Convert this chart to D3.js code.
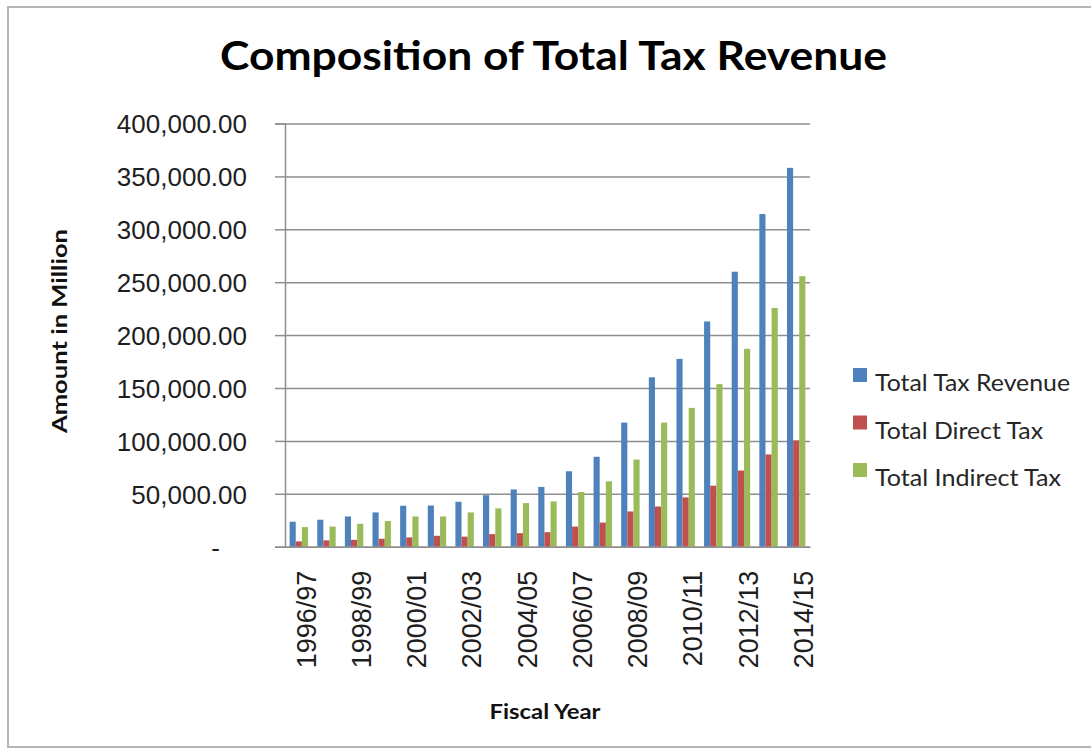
<!DOCTYPE html>
<html>
<head>
<meta charset="utf-8">
<script src="https://cdn.jsdelivr.net/npm/d3@7"></script>
<style>
  html, body { margin: 0; padding: 0; background: #fff; }
  svg { display: block; }
</style>
</head>
<body>
<svg id="chart" width="1091" height="754"></svg>
<script>
// Fiscal years on the category axis
const years = [
  "1996/97", "1997/98", "1998/99", "1999/00", "2000/01", "2001/02", "2002/03",
  "2003/04", "2004/05", "2005/06", "2006/07", "2007/08", "2008/09", "2009/10",
  "2010/11", "2011/12", "2012/13", "2013/14", "2014/15"
];

// Amounts in million
const totalTaxRevenue = [
  23600, 25500, 28600, 32400, 38700, 38900, 42500, 48700, 54100, 56500,
  71300, 85000, 117300, 160100, 177500, 212900, 259900, 314400, 358100
];
const totalDirectTax = [
  5000, 6000, 6500, 7500, 8800, 10300, 9500, 11900, 12800, 13700,
  19000, 22800, 33300, 38000, 46600, 57700, 72000, 87200, 100500
];
const totalIndirectTax = [
  18500, 19000, 21700, 24200, 28600, 28600, 32400, 36200, 41200, 42800,
  51700, 61800, 82400, 117300, 131200, 153700, 187000, 225700, 255700
];

const seriesNames = ["Total Tax Revenue", "Total Direct Tax", "Total Indirect Tax"];
const seriesValues = [totalTaxRevenue, totalDirectTax, totalIndirectTax];
const seriesColors = ["#4f81bd", "#c0504d", "#9bbb59"];

const yTicks = [0, 50000, 100000, 150000, 200000, 250000, 300000, 350000, 400000];

const svg = d3.select("#chart");

// chart frame
svg.append("rect")
  .attr("x", 8).attr("y", 7)
  .attr("width", 1100).attr("height", 740)
  .attr("fill", "#fff")
  .attr("stroke", "#b5b5b5")
  .attr("stroke-width", 2);

const plot = { left: 285, right: 810, top: 123.5, bottom: 546.7 };

const x = d3.scaleBand()
  .domain(years)
  .range([plot.left, plot.right])
  .paddingInner(0).paddingOuter(0);

const xs = d3.scaleBand()
  .domain(seriesNames)
  .range([0, x.bandwidth()])
  .paddingInner(0)
  .paddingOuter(0.75);

const y = d3.scaleLinear()
  .domain([0, 400000])
  .range([plot.bottom, plot.top]);

// horizontal gridlines
svg.append("g")
  .attr("transform", `translate(${plot.left},0)`)
  .call(d3.axisLeft(y).tickValues(yTicks).tickSize(-(plot.right - plot.left)).tickFormat(""))
  .call(g => g.select(".domain").remove())
  .call(g => g.selectAll("line").attr("stroke", "#8e8e8e").attr("stroke-width", 1.5));

// bars
const rows = years.map((yr, i) => ({
  year: yr,
  values: seriesNames.map((s, k) => ({ series: s, value: seriesValues[k][i], color: seriesColors[k] }))
}));

const groups = svg.append("g").selectAll("g")
  .data(rows)
  .join("g")
  .attr("transform", d => `translate(${x(d.year)},0)`);

groups.selectAll("rect")
  .data(d => d.values)
  .join("rect")
  .attr("x", d => xs(d.series))
  .attr("width", xs.bandwidth())
  .attr("y", d => y(d.value))
  .attr("height", d => y(0) - y(d.value))
  .attr("fill", d => d.color);

// value axis
const fmt = d3.format(",.2f");
const yAxis = svg.append("g")
  .attr("transform", `translate(${plot.left},0)`)
  .call(d3.axisLeft(y).tickValues(yTicks).tickSize(10).tickPadding(28)
    .tickFormat(v => v === 0 ? "-" : fmt(v)));
yAxis.select(".domain").attr("stroke", "#8e8e8e").attr("stroke-width", 1.5);
yAxis.selectAll(".tick line").attr("stroke", "#8e8e8e").attr("stroke-width", 1.5);
yAxis.selectAll(".tick text")
  .attr("font-family", "'Liberation Sans', Arial, sans-serif")
  .attr("font-size", 26)
  .attr("fill", "#1e1e1e")
  .attr("dy", "0.36em")
  .attr("x", v => v === 0 ? -65 : -38);

// category axis
const xAxis = svg.append("g")
  .attr("transform", `translate(0,${plot.bottom})`)
  .call(d3.axisBottom(x).tickValues(years.filter((d, i) => i % 2 === 0)).tickSize(0).tickFormat(d => d));
xAxis.select(".domain").attr("stroke", "#8e8e8e").attr("stroke-width", 1.5);
xAxis.selectAll(".tick text")
  .attr("font-family", "'Liberation Sans', Arial, sans-serif")
  .attr("font-size", 27)
  .attr("fill", "#1e1e1e")
  .attr("text-anchor", "end")
  .attr("transform", "translate(7,24) rotate(-90)")
  .attr("x", 0).attr("y", 0)
  .attr("dy", "0.36em");

// title
svg.append("text")
  .attr("x", 553.5).attr("y", 70)
  .attr("text-anchor", "middle")
  .attr("font-family", "Lato, 'Open Sans', sans-serif")
  .attr("font-weight", 700)
  .attr("font-size", 41)
  .attr("fill", "#000")
  .attr("textLength", 667)
  .attr("lengthAdjust", "spacingAndGlyphs")
  .text("Composition of Total Tax Revenue");

// axis titles
svg.append("text")
  .attr("transform", "translate(67,331) rotate(-90)")
  .attr("text-anchor", "middle")
  .attr("font-family", "Lato, 'Open Sans', sans-serif")
  .attr("font-weight", 700)
  .attr("font-size", 21)
  .attr("fill", "#111")
  .attr("textLength", 204)
  .attr("lengthAdjust", "spacingAndGlyphs")
  .text("Amount in Million");

svg.append("text")
  .attr("x", 545).attr("y", 719)
  .attr("text-anchor", "middle")
  .attr("font-family", "Lato, 'Open Sans', sans-serif")
  .attr("font-weight", 700)
  .attr("font-size", 21)
  .attr("fill", "#111")
  .attr("textLength", 111)
  .attr("lengthAdjust", "spacingAndGlyphs")
  .text("Fiscal Year");

// legend
const legendWidths = [195, 168, 186];
const legend = svg.append("g").selectAll("g")
  .data(seriesNames)
  .join("g")
  .attr("transform", (d, i) => `translate(853,${368 + i * 47.5})`);

legend.append("rect")
  .attr("width", 14).attr("height", 14)
  .attr("fill", (d, i) => seriesColors[i]);

legend.append("text")
  .attr("x", 22).attr("y", 23)
  .attr("font-family", "Lato, 'Open Sans', sans-serif")
  .attr("font-size", 23)
  .attr("fill", "#262626")
  .attr("textLength", (d, i) => legendWidths[i])
  .attr("lengthAdjust", "spacingAndGlyphs")
  .text(d => d);
</script>
</body>
</html>
